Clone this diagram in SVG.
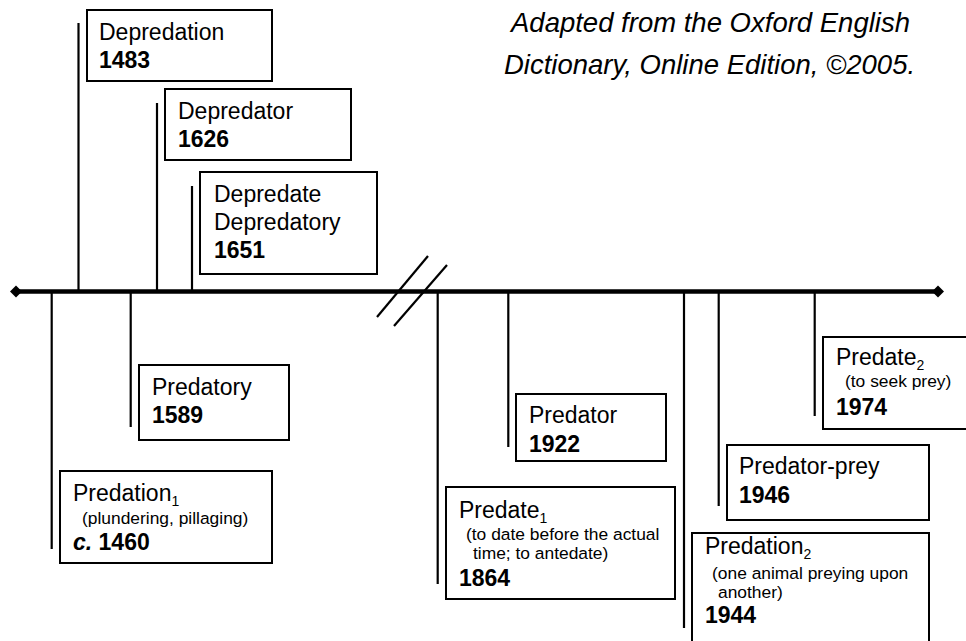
<svg xmlns="http://www.w3.org/2000/svg" width="966" height="641" viewBox="0 0 966 641">
<style>
text{font-family:"Liberation Sans",Arial,sans-serif;fill:#000}
.t{font-size:23px}
.b{font-size:23px;font-weight:bold}
.s{font-size:17.4px}
.sub{font-size:14px}
.note{font-size:27.5px;font-style:italic}
rect{fill:#fff;stroke:#000;stroke-width:2}
.tick{stroke:#000;stroke-width:2.2;fill:none}
.axis{stroke:#000;stroke-width:4.5;fill:none}
</style>
<rect x="0" y="0" width="966" height="641" style="stroke:none;fill:#fff"/>
<g id="source-note">
<text class="note" x="511" y="32">Adapted from the Oxford English</text>
<text class="note" x="504" y="74">Dictionary, Online Edition, ©2005.</text>
</g>
<g id="timeline">
<line class="axis" x1="16" y1="291.5" x2="938" y2="291.5"/>
<polygon points="16,285.5 22,291.5 16,297.5 10,291.5" fill="#000"/>
<polygon points="938,285.5 944,291.5 938,297.5 932,291.5" fill="#000"/>
<line class="tick" x1="377" y1="317" x2="428" y2="256"/>
<line class="tick" x1="394" y1="326" x2="447" y2="265"/>
</g>
<g id="connectors">
<line class="tick" x1="78.5" y1="23" x2="78.5" y2="291"/>
<line class="tick" x1="157" y1="103" x2="157" y2="291"/>
<line class="tick" x1="192" y1="186" x2="192" y2="291"/>
<line class="tick" x1="51.7" y1="291" x2="51.7" y2="549"/>
<line class="tick" x1="130.7" y1="291" x2="130.7" y2="427"/>
<line class="tick" x1="437.7" y1="291" x2="437.7" y2="584"/>
<line class="tick" x1="508.3" y1="291" x2="508.3" y2="447"/>
<line class="tick" x1="684" y1="291" x2="684" y2="628"/>
<line class="tick" x1="718.7" y1="291" x2="718.7" y2="506"/>
<line class="tick" x1="814.7" y1="291" x2="814.7" y2="416"/>
</g>
<g id="depredation">
<rect x="87" y="10" width="185" height="71"/>
<text class="t" x="99" y="40">Depredation</text>
<text class="b" x="99" y="68">1483</text>
</g>
<g id="depredator">
<rect x="165" y="89" width="186" height="71"/>
<text class="t" x="178" y="119">Depredator</text>
<text class="b" x="178" y="147">1626</text>
</g>
<g id="depredate">
<rect x="200" y="172" width="177" height="102"/>
<text class="t" x="214" y="202">Depredate</text>
<text class="t" x="214" y="230">Depredatory</text>
<text class="b" x="214" y="258">1651</text>
</g>
<g id="predatory">
<rect x="139" y="365" width="150" height="75"/>
<text class="t" x="152" y="395">Predatory</text>
<text class="b" x="152" y="423">1589</text>
</g>
<g id="predation1">
<rect x="60" y="471" width="212" height="92"/>
<text class="t" x="73" y="501">Predation<tspan class="sub" dy="5">1</tspan></text>
<text class="s" x="82" y="524">(plundering, pillaging)</text>
<text class="b" x="73" y="550"><tspan font-style="italic">c.</tspan> 1460</text>
</g>
<g id="predate1">
<rect x="446" y="487" width="229" height="112"/>
<text class="t" x="459" y="518">Predate<tspan class="sub" dy="5">1</tspan></text>
<text class="s" x="466" y="540">(to date before the actual</text>
<text class="s" x="473" y="559">time; to antedate)</text>
<text class="b" x="459" y="586">1864</text>
</g>
<g id="predator">
<rect x="516" y="394" width="150" height="67"/>
<text class="t" x="529" y="423">Predator</text>
<text class="b" x="529" y="452">1922</text>
</g>
<g id="predation2">
<rect x="692" y="533" width="237" height="120"/>
<text class="t" x="705" y="554">Predation<tspan class="sub" dy="5">2</tspan></text>
<text class="s" x="712" y="579">(one animal preying upon</text>
<text class="s" x="718" y="598">another)</text>
<text class="b" x="705" y="623">1944</text>
</g>
<g id="predator-prey">
<rect x="727" y="445" width="202" height="75"/>
<text class="t" x="739" y="474">Predator-prey</text>
<text class="b" x="739" y="503">1946</text>
</g>
<g id="predate2">
<rect x="823" y="337" width="150" height="92"/>
<text class="t" x="836" y="365">Predate<tspan class="sub" dy="5">2</tspan></text>
<text class="s" x="845" y="387">(to seek prey)</text>
<text class="b" x="836" y="415">1974</text>
</g>
</svg>
